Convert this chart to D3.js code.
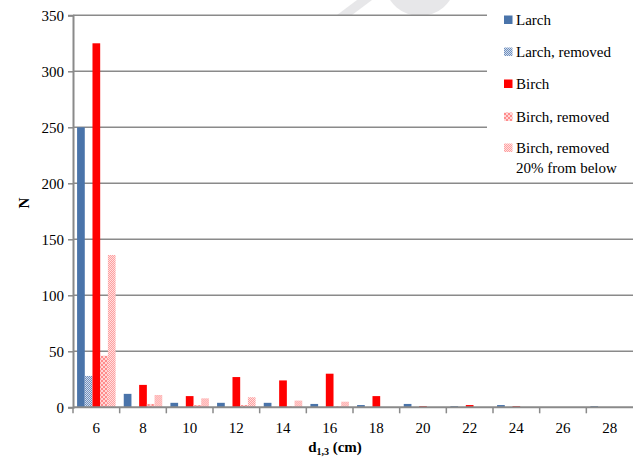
<!DOCTYPE html>
<html>
<head>
<meta charset="utf-8">
<script src="https://cdn.jsdelivr.net/npm/d3@7"></script>
</head>
<body style="margin:0;background:#fff">
<svg id="chart" width="633" height="463" style="display:block"></svg>
<script>
// Diameter classes (cm)
const categories = [6, 8, 10, 12, 14, 16, 18, 20, 22, 24, 26, 28];

// Number of trees per diameter class
const larch          = [250, 12, 4, 4, 4, 3, 2, 3, 1, 2, 0, 1];
const larchRemoved   = [28, 0, 0, 0, 0, 0, 0, 0, 0, 0, 0, 0];
const birch          = [325, 20, 10, 27, 24, 30, 10, 1, 2, 1, 0, 0];
const birchRemoved   = [46, 3, 2, 2, 1, 1, 0, 0, 0, 0, 0, 0];
const birchRemoved20 = [136, 11, 8, 9, 6, 5, 0, 0, 0, 0, 0, 0];

const seriesNames = ["Larch", "Larch, removed", "Birch", "Birch, removed", "Birch, removed\n20% from below"];
const seriesValues = [larch, larchRemoved, birch, birchRemoved, birchRemoved20];
const yTicks = [0, 50, 100, 150, 200, 250, 300, 350];

const svg = d3.select("#chart");
const defs = svg.append("defs");

// Fill patterns for the "removed" series
function checker(id, color, size, bg) {
  const p = defs.append("pattern").attr("id", id)
    .attr("width", size * 2).attr("height", size * 2)
    .attr("patternUnits", "userSpaceOnUse");
  p.append("rect").attr("width", size * 2).attr("height", size * 2).attr("fill", bg);
  p.append("rect").attr("width", size).attr("height", size).attr("fill", color);
  p.append("rect").attr("x", size).attr("y", size).attr("width", size).attr("height", size).attr("fill", color);
}
checker("pLarchRem", "#6f8fbf", 1, "#d4deec");
checker("pBirchRem", "#ff8c8c", 2, "#ffd6d6");
checker("pBirchRem20", "#ff9f9f", 1, "#ffe0e0");

const fills = ["#4a74aa", "url(#pLarchRem)", "#ff0000", "url(#pBirchRem)", "url(#pBirchRem20)"];

const margin = { left: 73, right: 633, top: 15.3, bottom: 407.3 };

const x = d3.scaleBand().domain(categories).range([margin.left, margin.right]).padding(0);
const xs = d3.scaleBand().domain(d3.range(seriesNames.length))
  .range([0, x.bandwidth()]).paddingInner(0).paddingOuter(0.53);
const y = d3.scaleLinear().domain([0, 350]).range([margin.bottom, margin.top]);

// Faint background emblem near the top
const emblem = svg.append("g").attr("fill", "#e7e7e9");
emblem.append("path")
  .attr("d", d3.arc().innerRadius(19).outerRadius(36).startAngle(Math.PI * 0.55).endAngle(Math.PI * 1.45)())
  .attr("transform", "translate(420,-20)");
emblem.append("path")
  .attr("d", "M337,15 L352,15 L372,0 L357,0 Z");

// Horizontal gridlines
svg.append("g")
  .selectAll("line")
  .data(yTicks.filter(d => d > 0))
  .join("line")
  .attr("x1", margin.left).attr("x2", margin.right)
  .attr("y1", d => y(d)).attr("y2", d => y(d))
  .attr("stroke", "#8a8a8a").attr("stroke-width", 1.5);

// Bars
const groups = svg.append("g")
  .selectAll("g")
  .data(categories)
  .join("g")
  .attr("transform", d => `translate(${x(d)},0)`);

groups.selectAll("rect")
  .data((c, i) => seriesValues.map((vals, s) => ({ s, v: vals[i] })))
  .join("rect")
  .attr("x", d => xs(d.s))
  .attr("width", xs.bandwidth())
  .attr("y", d => y(d.v))
  .attr("height", d => y(0) - y(d.v))
  .attr("fill", d => fills[d.s]);

// Y axis
const yAxis = svg.append("g")
  .attr("transform", `translate(${margin.left},0)`)
  .call(d3.axisLeft(y).tickValues(yTicks).tickSize(5).tickPadding(4));
yAxis.select(".domain").attr("stroke", "#8a8a8a").attr("stroke-width", 2);
yAxis.selectAll(".tick line").attr("stroke", "#8a8a8a").attr("stroke-width", 1.5);
yAxis.selectAll(".tick text").attr("fill", "#000");

// X axis: ticks between categories
const xAxisG = svg.append("g").attr("transform", `translate(0,${margin.bottom})`);
xAxisG.append("line")
  .attr("x1", margin.left).attr("x2", margin.right)
  .attr("stroke", "#8a8a8a").attr("stroke-width", 2);
xAxisG.selectAll("line.tk")
  .data(categories)
  .join("line").attr("class", "tk")
  .attr("x1", d => x(d)).attr("x2", d => x(d))
  .attr("y1", 0).attr("y2", 6)
  .attr("stroke", "#8a8a8a").attr("stroke-width", 1.5);
xAxisG.selectAll("text")
  .data(categories)
  .join("text")
  .attr("x", d => x(d) + x.bandwidth() / 2)
  .attr("y", 26)
  .attr("text-anchor", "middle")
  .text(d => d);

// Axis titles
const xt = svg.append("text")
  .attr("x", 335).attr("y", 452)
  .attr("text-anchor", "middle")
  .attr("font-weight", "bold");
xt.append("tspan").text("d");
xt.append("tspan").style("font-size", "10px").attr("dy", 3).text("1,3");
xt.append("tspan").attr("dy", -3).text(" (cm)");

svg.append("text")
  .attr("transform", "translate(29,203) rotate(-90)")
  .attr("text-anchor", "middle")
  .attr("font-weight", "bold")
  .text("N");

// Legend with a white box over the gridlines
const legend = svg.append("g");
legend.append("rect")
  .attr("x", 487).attr("y", 0).attr("width", 146).attr("height", 178)
  .attr("fill", "#fff");
const legendY = [20, 52, 84, 117, 148];
seriesNames.forEach((name, i) => {
  const g = legend.append("g").attr("transform", `translate(504,${legendY[i]})`);
  g.append("rect").attr("x", 0).attr("y", -4.5).attr("width", 8.5).attr("height", 8.5)
    .attr("fill", fills[i]);
  const t = g.append("text").attr("x", 12).attr("y", 5);
  name.split("\n").forEach((line, k) => {
    t.append("tspan").attr("x", 12).attr("dy", k === 0 ? 0 : 20).text(line);
  });
});

// Serif typeface and size on every label
svg.selectAll("text")
  .attr("font-family", null)
  .attr("font-size", null)
  .style("font-size", "15px")
  .style("font-family", '"Liberation Serif", monospace');
</script>
</body>
</html>
